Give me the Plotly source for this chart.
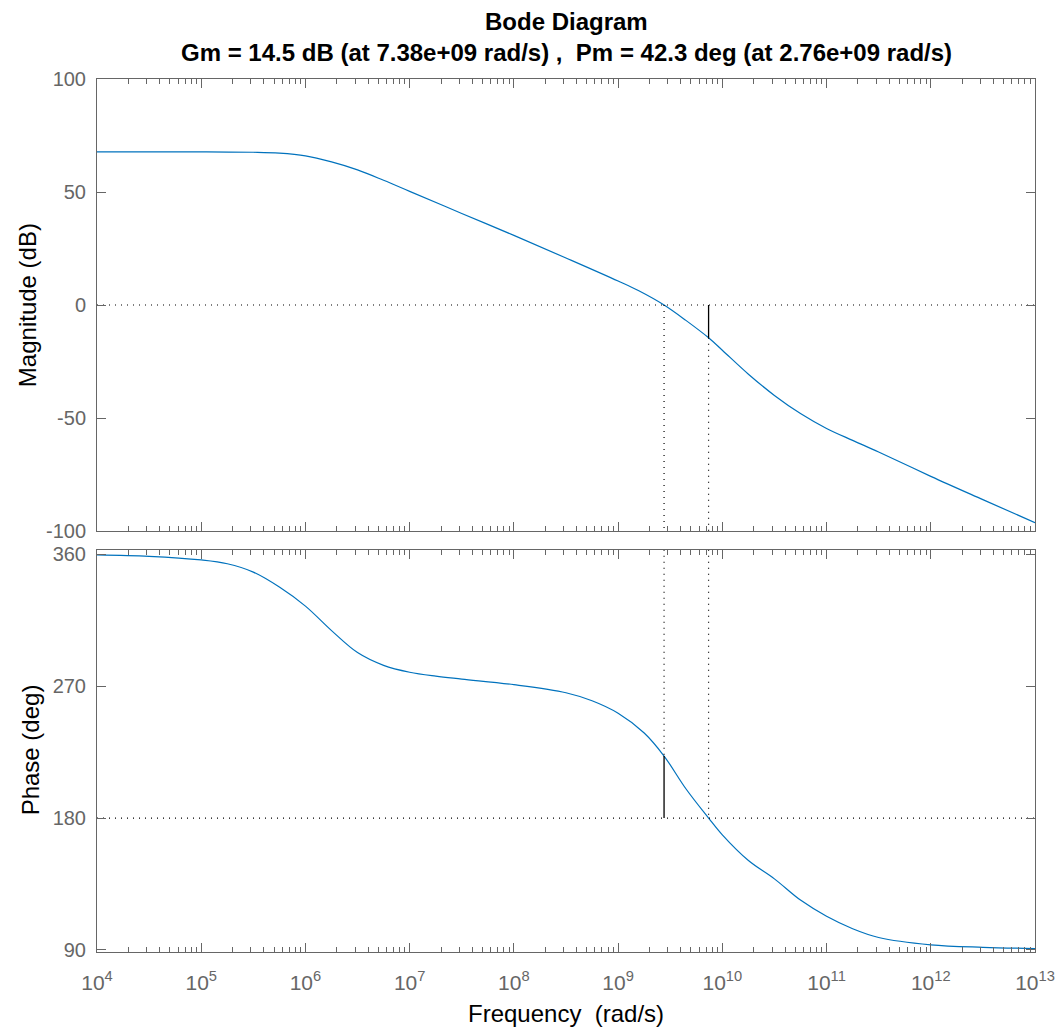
import plotly.graph_objects as go
from plotly.subplots import make_subplots

# values
freq_mag = [1e4, 1e5, 3.16e5, 5.62e5, 1e6, 1.78e6, 3.16e6, 5.62e6, 1e7, 3.16e7, 1e8,
            3.16e8, 1e9, 1.58e9, 2.76e9, 4.47e9, 7.38e9, 1e10, 1.78e10, 3.16e10,
            5.62e10, 1e11, 1.78e11, 3.16e11, 1e12, 3.16e12, 1e13]
mag_db = [67.8, 67.8, 67.6, 67.2, 66.0, 63.3, 59.8, 55.2, 50.3, 40.5, 30.8,
          20.8, 10.6, 6.3, 0.0, -6.8, -14.5, -20.0, -30.6, -40.0,
          -48.0, -54.6, -59.9, -65.0, -75.8, -86.1, -96.3]

freq_ph = [1e4, 3.16e4, 1e5, 1.78e5, 3.16e5, 5.62e5, 1e6, 1.78e6, 3.16e6, 5.62e6, 1e7,
           1.78e7, 3.16e7, 1e8, 3.16e8, 5.62e8, 1e9, 1.78e9, 2.76e9, 4.47e9, 7.38e9,
           1e10, 1.78e10, 3.16e10, 5.62e10, 1e11, 1.78e11, 3.16e11, 1e12, 3.16e12, 1e13]
phase_deg = [359.6, 358.6, 356.1, 353.5, 347.8, 337.6, 324.6, 307.9, 292.9, 284.2, 279.5,
             276.8, 274.8, 271.0, 265.5, 260.0, 251.5, 238.0, 222.3, 200.0, 180.0,
             168.5, 151.0, 138.5, 124.0, 113.0, 104.5, 98.5, 93.5, 91.8, 91.0]

wcg = 7.38e9   # phase crossover (phase = 180)
wcp = 2.76e9   # gain crossover (0 dB)
gm_db = 14.5
pm_deg = 42.3

decades = [1e4, 1e5, 1e6, 1e7, 1e8, 1e9, 1e10, 1e11, 1e12, 1e13]
decade_text = ['10<sup>%d</sup>' % e for e in range(4, 14)]
minor_vals = [m * d for d in decades[:-1] for m in range(2, 10)]
mag_ticks = [-100, -50, 0, 50, 100]
phase_ticks = [90, 180, 270, 360]

AX = '#666666'
BLUE = '#0072BD'
FONT = 'Liberation Sans, Arial, sans-serif'

fig = make_subplots(rows=2, cols=1, shared_xaxes=True, vertical_spacing=0.02)

fig.add_trace(go.Scatter(x=freq_mag, y=mag_db, mode='lines', line_shape='spline',
                         line=dict(color=BLUE, width=1.2)), row=1, col=1)
fig.add_trace(go.Scatter(x=freq_ph, y=phase_deg, mode='lines', line_shape='spline',
                         line=dict(color=BLUE, width=1.2)), row=2, col=1)

dot = dict(color='black', width=1.2, dash='1px,5px')
solid = dict(color='black', width=1.3)

# magnitude margin lines
fig.add_trace(go.Scatter(x=[1e4, 1e13], y=[0, 0], mode='lines', line=dot), row=1, col=1)
fig.add_trace(go.Scatter(x=[wcp, wcp], y=[0, -100], mode='lines', line=dot), row=1, col=1)
fig.add_trace(go.Scatter(x=[wcg, wcg], y=[-gm_db, -100], mode='lines', line=dot), row=1, col=1)
fig.add_trace(go.Scatter(x=[wcg, wcg], y=[0, -gm_db], mode='lines', line=solid), row=1, col=1)

# phase margin lines
fig.add_trace(go.Scatter(x=[1e4, 1e13], y=[180, 180], mode='lines', line=dot), row=2, col=1)
fig.add_trace(go.Scatter(x=[wcp, wcp], y=[363, 180 + pm_deg], mode='lines', line=dot), row=2, col=1)
fig.add_trace(go.Scatter(x=[wcp, wcp], y=[180 + pm_deg, 180], mode='lines', line=solid), row=2, col=1)
fig.add_trace(go.Scatter(x=[wcg, wcg], y=[363, 180], mode='lines', line=dot), row=2, col=1)

xcommon = dict(type='log', range=[4, 13], showgrid=False, zeroline=False,
               showline=True, linecolor=AX, linewidth=1, mirror='ticks',
               ticks='inside', ticklen=9, tickcolor=AX,
               tickvals=decades, ticktext=decade_text,
               minor=dict(tickvals=minor_vals, ticks='inside', ticklen=5, tickcolor=AX))
fig.update_xaxes(**xcommon)
fig.update_xaxes(showticklabels=False, row=1, col=1)
fig.update_xaxes(tickfont=dict(family=FONT, size=21, color=AX), ticklabelstandoff=12,
                 row=2, col=1)

ycommon = dict(showgrid=False, zeroline=False, showline=True, linecolor=AX, linewidth=1,
               mirror='ticks', ticks='inside', ticklen=9, tickcolor=AX,
               ticklabelstandoff=6,
               tickfont=dict(family=FONT, size=20, color=AX))
fig.update_yaxes(**ycommon)
fig.update_yaxes(range=[-100, 100], tickvals=mag_ticks, ticktext=[str(v) for v in mag_ticks],
                 domain=[0.4822, 1], row=1, col=1)
fig.update_yaxes(range=[88.6, 362.9], tickvals=phase_ticks,
                 ticktext=[str(v) for v in phase_ticks], domain=[0, 0.4605], row=2, col=1)

lab = dict(size=24, family=FONT, color='black')
fig.update_layout(
    width=1063, height=1032,
    margin=dict(l=89, r=36, t=71, b=88),
    plot_bgcolor='white', paper_bgcolor='white',
    showlegend=False,
    font=dict(family=FONT, color='black'),
    annotations=[
        dict(text='<b>Bode Diagram</b>', x=0.5, y=1, xref='paper', yref='paper',
             yanchor='middle', yshift=58, showarrow=False, font=lab),
        dict(text='<b>Gm = 14.5 dB (at 7.38e+09 rad/s) ,  Pm = 42.3 deg (at 2.76e+09 rad/s)</b>',
             x=0.5, y=1, xref='paper', yref='paper', yanchor='middle', yshift=27,
             showarrow=False, font=lab),
        dict(text='Magnitude (dB)', x=-0.0746, y=0.741, xref='paper', yref='paper',
             xanchor='center', yanchor='middle', textangle=-90, showarrow=False, font=lab),
        dict(text='Phase (deg)', x=-0.0714, y=0.231, xref='paper', yref='paper',
             xanchor='center', yanchor='middle', textangle=-90, showarrow=False, font=lab),
        dict(text='Frequency  (rad/s)', x=0.5, y=0, xref='paper', yref='paper',
             yanchor='middle', yshift=-61, showarrow=False, font=lab),
    ],
)

fig.write_html('out.html')
